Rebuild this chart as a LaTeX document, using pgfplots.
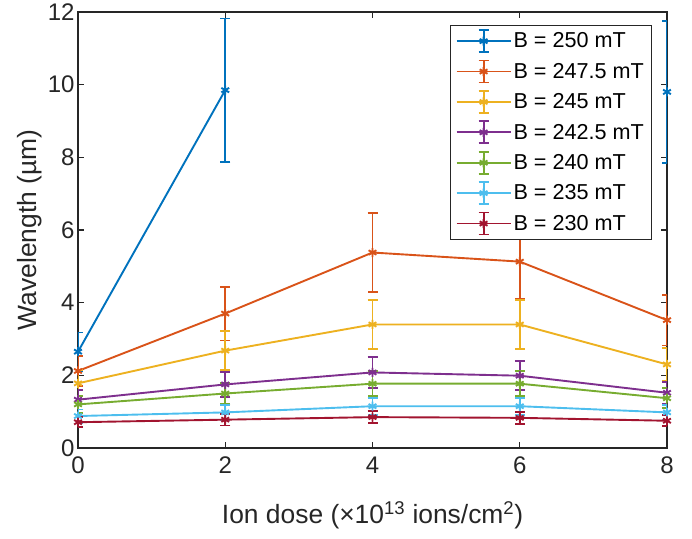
\documentclass[border=0pt]{standalone}
\usepackage{fontspec}
\setmainfont{Liberation Sans}
\usepackage{pgfplots}
\pgfplotsset{compat=1.18}
\definecolor{c1}{rgb}{0,0.447,0.741}
\definecolor{c2}{rgb}{0.850,0.325,0.098}
\definecolor{c3}{rgb}{0.929,0.694,0.125}
\definecolor{c4}{rgb}{0.494,0.184,0.556}
\definecolor{c5}{rgb}{0.466,0.674,0.188}
\definecolor{c6}{rgb}{0.301,0.745,0.933}
\definecolor{c7}{rgb}{0.635,0.078,0.184}
\definecolor{axisgray}{rgb}{0.15,0.15,0.15}
\pgfplotsset{
  eb/.style={
    color=#1, line width=1.9pt, mark=asterisk, mark size=4.5pt, mark options={solid, line width=1.9pt, color=#1},
    error bars/y dir=both, error bars/y explicit,
    error bars/error bar style={color=#1, line width=1.9pt},
    error bars/error mark options={color=#1, rotate=90, mark size=5pt, line width=1.9pt},
    legend image code/.code={
      \draw[draw=#1, line width=1.9pt] (0pt,0pt) -- (54pt,0pt);
      \draw[draw=#1, line width=1.9pt] (27pt,-11pt) -- (27pt,11pt) (22pt,-11pt) -- (32pt,-11pt) (22pt,11pt) -- (32pt,11pt);
      \draw[draw=#1, line width=1.9pt, mark=asterisk, mark size=4.5pt, mark options={draw=#1, line width=1.9pt}] plot coordinates {(27pt,0pt)};
    },
  },
}
\begin{document}
\begin{tikzpicture}
\begin{axis}[
  at={(0,0)}, anchor=south west,
  scale only axis, width=589pt, height=436pt,
  xmin=0, xmax=8, ymin=0, ymax=12,
  xtick={0,2,4,6,8}, ytick={0,2,4,6,8,10,12},
  axis line style={color=axisgray, line width=1.2pt},
  every tick/.style={color=axisgray, line width=1.2pt},
  major tick length=6pt,
  tick label style={font=\fontsize{24}{28}\selectfont, text=axisgray},
  /pgf/number format/assume math mode=true,
  xticklabel style={yshift=-5pt},
  label style={font=\fontsize{26.4}{30}\selectfont, text=axisgray},
  xlabel={Ion dose (×10\textsuperscript{13} ions/cm\textsuperscript{2})},
  ylabel={Wavelength (µm)},
  xlabel style={at={(axis description cs:0.5,-0.1537)}, anchor=center},
  ylabel style={at={(axis description cs:-0.0815,0.5)}, anchor=center},
  legend cell align=left,
  legend style={at={(1,1)}, xshift=-16pt, yshift=-13pt, anchor=north east,
    draw=axisgray, fill=white,
    font=\fontsize{21.6}{26}\selectfont, row sep=6.5pt, inner xsep=5pt, inner ysep=4pt,
    nodes={inner sep=2pt}},
]
\addplot[eb=c1] coordinates {(0,2.65) +- (0,0.53) (2,9.85) +- (0,1.97)};
\addlegendentry{B = 250 mT}
\addplot[eb=c1, forget plot] coordinates {(8,9.80) +- (0,1.96)};
\addplot[eb=c2] coordinates {(0,2.12) +- (0,0.42) (2,3.70) +- (0,0.74) (4,5.38) +- (0,1.08) (6,5.13) +- (0,1.03) (8,3.52) +- (0,0.70)};
\addlegendentry{B = 247.5 mT}
\addplot[eb=c3] coordinates {(0,1.78) +- (0,0.36) (2,2.68) +- (0,0.54) (4,3.40) +- (0,0.68) (6,3.40) +- (0,0.68) (8,2.30) +- (0,0.46)};
\addlegendentry{B = 245 mT}
\addplot[eb=c4] coordinates {(0,1.33) +- (0,0.27) (2,1.75) +- (0,0.35) (4,2.08) +- (0,0.42) (6,1.99) +- (0,0.40) (8,1.52) +- (0,0.30)};
\addlegendentry{B = 242.5 mT}
\addplot[eb=c5] coordinates {(0,1.20) +- (0,0.24) (2,1.50) +- (0,0.30) (4,1.77) +- (0,0.35) (6,1.77) +- (0,0.35) (8,1.37) +- (0,0.27)};
\addlegendentry{B = 240 mT}
\addplot[eb=c6] coordinates {(0,0.88) +- (0,0.18) (2,0.98) +- (0,0.20) (4,1.15) +- (0,0.23) (6,1.15) +- (0,0.23) (8,0.98) +- (0,0.20)};
\addlegendentry{B = 235 mT}
\addplot[eb=c7] coordinates {(0,0.71) +- (0,0.14) (2,0.78) +- (0,0.16) (4,0.85) +- (0,0.17) (6,0.83) +- (0,0.17) (8,0.75) +- (0,0.15)};
\addlegendentry{B = 230 mT}
\end{axis}
\pgfresetboundingbox
\path (-78pt,-90pt) rectangle (614pt,448pt);
\end{tikzpicture}
\end{document}
